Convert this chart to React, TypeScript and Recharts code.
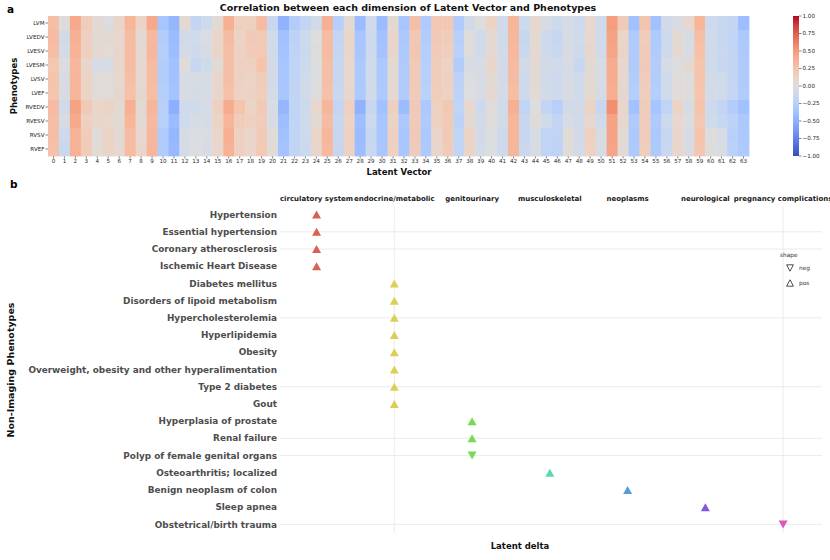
import React from "react"
import { Bar, BarChart, ReferenceLine, Scatter, ScatterChart, XAxis, YAxis } from "recharts"

// ---- panel a: correlation heatmap ----
const PHENOTYPES = ["LVM", "LVEDV", "LVESV", "LVESM", "LVSV", "LVEF", "RVEDV", "RVESV", "RVSV", "RVEF"]
const LATENT_DIMS = Array.from({ length: 64 }, (_, i) => i)

const LVM = [0.28, 0.02, 0.42, 0.18, 0.05, -0.02, 0.1, 0.35, 0.12, 0.42, -0.35, -0.45, 0.05, -0.18, -0.12, 0.05, 0.38, 0.15, 0.15, 0.3, -0.15, -0.48, -0.28, -0.18, -0.08, 0.38, -0.25, 0.05, -0.42, -0.1, -0.42, 0.05, -0.35, 0.28, -0.3, 0.22, 0.22, -0.3, -0.08, 0, 0.12, -0.1, 0.35, -0.12, 0.08, -0.05, -0.12, -0.05, -0.12, 0.08, -0.1, 0.48, 0.2, -0.38, 0.25, -0.38, -0.08, -0.05, 0.08, 0.35, -0.12, -0.15, -0.18, -0.4]
const LVEDV = [0.3, -0.08, 0.38, 0.15, 0.05, 0.05, 0.08, 0.3, 0.05, 0.32, -0.28, -0.42, -0.08, -0.1, -0.03, 0.1, 0.3, 0.12, 0.2, 0.2, -0.1, -0.38, -0.22, -0.12, 0, 0.3, -0.18, 0.1, -0.35, -0.12, -0.38, 0.1, -0.32, 0.22, -0.28, 0.2, 0.18, -0.25, 0.02, -0.1, 0.05, -0.1, 0.33, -0.15, 0.05, -0.12, -0.15, -0.05, -0.1, 0.08, -0.1, 0.45, 0.1, -0.3, 0.18, -0.3, -0.12, 0.05, -0.05, 0.28, -0.1, -0.15, -0.2, -0.32]
const LVESV = [0.29, -0.07, 0.36, 0.15, 0.06, 0.04, 0.09, 0.31, 0.06, 0.33, -0.27, -0.41, -0.07, -0.11, -0.04, 0.11, 0.29, 0.13, 0.19, 0.21, -0.09, -0.37, -0.21, -0.13, 0.01, 0.31, -0.17, 0.09, -0.34, -0.11, -0.37, 0.09, -0.31, 0.23, -0.27, 0.19, 0.17, -0.24, 0.01, -0.09, 0.06, -0.09, 0.32, -0.14, 0.06, -0.11, -0.14, -0.04, -0.11, 0.07, -0.09, 0.44, 0.11, -0.29, 0.19, -0.29, -0.11, 0.06, -0.04, 0.27, -0.09, -0.14, -0.19, -0.31]
const LVESM = [0.22, -0.02, 0.33, 0.1, -0.05, -0.05, 0.1, 0.3, 0.08, 0.3, -0.28, -0.38, 0.02, -0.15, -0.1, 0.05, 0.28, 0.15, 0.15, 0.25, -0.08, -0.35, -0.2, -0.12, 0, 0.28, -0.15, 0.08, -0.32, -0.1, -0.32, 0.05, -0.3, 0.2, -0.25, 0.18, 0.12, -0.28, -0.05, -0.05, 0.1, -0.08, 0.3, -0.08, 0.05, -0.08, -0.1, -0.05, -0.15, 0.05, -0.05, 0.4, 0.08, -0.3, 0.2, -0.28, -0.05, -0.02, 0.05, 0.25, -0.1, -0.15, -0.18, -0.3]
const LVSV = [0.25, -0.05, 0.35, 0.12, 0.02, 0.03, 0.08, 0.28, 0.08, 0.3, -0.28, -0.38, -0.05, -0.05, -0.05, 0.1, 0.28, 0.15, 0.12, 0.18, -0.08, -0.35, -0.2, -0.1, 0, 0.28, -0.15, 0.08, -0.32, -0.1, -0.32, 0.05, -0.3, 0.2, -0.25, 0.18, 0.15, -0.22, -0.02, -0.05, 0.05, -0.08, 0.3, -0.12, 0.05, -0.1, -0.12, -0.05, -0.1, 0.05, -0.05, 0.4, 0.08, -0.28, 0.18, -0.28, -0.1, 0.02, 0, 0.25, -0.08, -0.1, -0.18, -0.3]
const LVEF = [0.24, -0.04, 0.34, 0.12, 0.03, 0.02, 0.07, 0.27, 0.07, 0.29, -0.27, -0.37, -0.04, -0.06, -0.04, 0.09, 0.27, 0.14, 0.13, 0.17, -0.07, -0.34, -0.19, -0.09, 0.01, 0.27, -0.14, 0.07, -0.31, -0.09, -0.31, 0.06, -0.29, 0.19, -0.24, 0.17, 0.14, -0.21, -0.01, -0.04, 0.06, -0.07, 0.29, -0.11, 0.04, -0.09, -0.11, -0.04, -0.09, 0.06, -0.06, 0.39, 0.07, -0.27, 0.17, -0.27, -0.09, 0.03, 0.01, 0.24, -0.07, -0.09, -0.17, -0.29]
const RVEDV = [0.3, -0.1, 0.45, 0.2, 0.1, 0.12, 0.05, 0.38, 0.05, 0.35, -0.25, -0.5, -0.1, -0.1, -0.05, 0.15, 0.4, 0.25, 0.12, 0.2, -0.05, -0.45, -0.2, -0.12, 0.08, 0.35, -0.18, 0.15, -0.48, -0.15, -0.38, 0.15, -0.42, 0.2, -0.32, 0.15, 0.22, -0.2, 0.08, -0.12, 0.02, -0.1, 0.38, -0.2, 0, -0.18, -0.25, -0.08, -0.08, 0.12, -0.15, 0.55, 0.1, -0.38, 0.18, -0.35, -0.2, 0.12, -0.05, 0.25, -0.12, -0.18, -0.28, -0.38]
const RVESV = [0.28, -0.05, 0.42, 0.15, 0.1, 0.08, 0.05, 0.35, 0.05, 0.32, -0.25, -0.42, -0.1, -0.05, -0.05, 0.12, 0.35, 0.18, 0.15, 0.18, -0.05, -0.4, -0.2, -0.1, 0.05, 0.3, -0.15, 0.12, -0.4, -0.12, -0.35, 0.12, -0.32, 0.2, -0.3, 0.15, 0.2, -0.22, 0.05, -0.08, 0.02, -0.08, 0.35, -0.15, 0.02, -0.1, -0.18, -0.05, -0.08, 0.08, -0.1, 0.45, 0.08, -0.3, 0.18, -0.3, -0.12, 0.08, -0.02, 0.22, -0.1, -0.15, -0.22, -0.32]
const RVSV = [0.28, -0.12, 0.36, 0.18, 0.02, 0.12, 0.05, 0.3, 0.08, 0.33, -0.3, -0.45, -0.05, -0.03, -0.03, 0.1, 0.38, 0.15, 0.1, 0.2, 0.02, -0.38, -0.2, -0.12, 0.1, 0.33, -0.15, 0.15, -0.42, -0.15, -0.35, 0.15, -0.35, 0.2, -0.32, 0.1, 0.2, -0.2, 0.12, -0.08, 0, -0.12, 0.35, -0.15, -0.05, -0.2, -0.2, 0.03, -0.08, 0.15, -0.05, 0.45, 0.05, -0.32, 0.18, -0.32, -0.15, 0.1, -0.05, 0.25, 0, -0.05, -0.25, -0.32]
const RVEF = [0.27, -0.14, 0.37, 0.19, 0.04, 0.11, 0.06, 0.31, 0.1, 0.34, -0.29, -0.44, -0.06, -0.02, -0.04, 0.09, 0.37, 0.16, 0.09, 0.21, 0.03, -0.37, -0.19, -0.13, 0.09, 0.32, -0.16, 0.14, -0.41, -0.14, -0.34, 0.14, -0.34, 0.19, -0.31, 0.09, 0.19, -0.19, 0.11, -0.07, -0.01, -0.11, 0.34, -0.14, -0.04, -0.19, -0.21, 0.02, -0.07, 0.14, -0.04, 0.44, 0.04, -0.31, 0.17, -0.31, -0.14, 0.09, -0.04, 0.24, 0.01, -0.04, -0.24, -0.31]
const CORR = [LVM, LVEDV, LVESV, LVESM, LVSV, LVEF, RVEDV, RVESV, RVSV, RVEF]

const CB_TICKS = [1, 0.75, 0.5, 0.25, 0, -0.25, -0.5, -0.75, -1]

// ---- panel b: non-imaging phenotypes ----
const CATEGORIES = ["circulatory system", "endocrine/metabolic", "genitourinary", "musculoskeletal", "neoplasms", "neurological", "pregnancy complications"]
const DISEASES = [
  "Hypertension", "Essential hypertension", "Coronary atherosclerosis", "Ischemic Heart Disease",
  "Diabetes mellitus", "Disorders of lipoid metabolism", "Hypercholesterolemia", "Hyperlipidemia", "Obesity",
  "Overweight, obesity and other hyperalimentation", "Type 2 diabetes", "Gout",
  "Hyperplasia of prostate", "Renal failure", "Polyp of female genital organs",
  "Osteoarthritis; localized", "Benign neoplasm of colon", "Sleep apnea", "Obstetrical/birth trauma",
]
const DISEASE_CATEGORY = [0, 0, 0, 0, 1, 1, 1, 1, 1, 1, 1, 1, 2, 2, 2, 3, 4, 5, 6]
const DISEASE_SIGN = ["pos", "pos", "pos", "pos", "pos", "pos", "pos", "pos", "pos", "pos", "pos", "pos", "pos", "pos", "neg", "pos", "pos", "pos", "neg"]

const PALETTE = ["#db5f57", "#dbd057", "#75db57", "#57dbaa", "#579bdb", "#8557db", "#db57c0"]
const FONT = "'DejaVu Sans', sans-serif"

// coolwarm colormap samples, -1 .. 1 in steps of 0.125
const COOLWARM = [
  [58, 76, 192], [77, 104, 215], [98, 130, 234], [119, 154, 247], [141, 176, 254],
  [163, 194, 255], [184, 208, 249], [204, 217, 238], [221, 221, 221], [236, 211, 197],
  [245, 196, 173], [247, 177, 148], [244, 154, 123], [236, 127, 99], [222, 96, 77],
  [203, 62, 56], [180, 4, 38],
]
function coolwarm(v: number) {
  const t = Math.max(0, Math.min(1, (v + 1) / 2)) * (COOLWARM.length - 1)
  const i = Math.min(COOLWARM.length - 2, Math.floor(t))
  const f = t - i
  const c = COOLWARM[i].map((a, k) => Math.round(a + (COOLWARM[i + 1][k] - a) * f))
  return `rgb(${c[0]},${c[1]},${c[2]})`
}

const HM_LEFT = 48
const HM_RIGHT = 749
const HM_TOP = 16
const HM_BOTTOM = 156
const CELL_W = (HM_RIGHT - HM_LEFT) / LATENT_DIMS.length
const CELL_H = (HM_BOTTOM - HM_TOP) / PHENOTYPES.length

const cells = CORR.flatMap((row, r) => row.map((v, c) => ({ x: c, y: r, v })))
const points = DISEASES.map((name, i) => ({ x: DISEASE_CATEGORY[i], y: i, name, sign: DISEASE_SIGN[i] }))
const GRID_ROWS = [1, 2, 6, 10, 13, 14, 18]
const GRID_COLS = [1, 6]

const fmtCb = (v: number) => (v < 0 ? "\u2212" + Math.abs(v).toFixed(2) : v.toFixed(2))

const HeatCell = (p: any) => (
  <rect x={p.cx - CELL_W / 2} y={p.cy - CELL_H / 2} width={CELL_W + 0.4} height={CELL_H + 0.4} fill={coolwarm(p.payload.v)} />
)

const Triangle = (p: any) => {
  const { cx, cy } = p
  const w = 4.5
  const h = 4
  const pts = p.payload.sign === "pos"
    ? `${cx - w},${cy + h} ${cx + w},${cy + h} ${cx},${cy - h}`
    : `${cx - w},${cy - h} ${cx + w},${cy - h} ${cx},${cy + h}`
  return <polygon points={pts} fill={PALETTE[p.payload.x]} />
}

// plain text ticks so long labels are not wrapped
const DiseaseTick = (p: any) => (
  <text x={p.x} y={p.y} dy="0.35em" textAnchor="end" fontSize={8.9} fontWeight="bold" fill="#4d4d4d">
    {DISEASES[p.payload.value]}
  </text>
)
const CategoryTick = (p: any) => (
  <text x={p.x} y={p.y} dy={-5} textAnchor="middle" fontSize={7} fontWeight="bold" fill="#1a1a1a">
    {CATEGORIES[p.payload.value]}
  </text>
)

const txt = (style: React.CSSProperties): React.CSSProperties => ({
  position: "absolute", whiteSpace: "nowrap", lineHeight: 1, fontFamily: FONT, ...style,
})

export default function App() {
  const tickA = { fontSize: 5.6, fill: "#262626" }
  return (
    <div style={{ position: "absolute", left: 0, top: 0, width: 830, height: 560, background: "#fff", fontFamily: FONT }}>
      {/* panel a heatmap */}
      <div style={{ position: "absolute", left: 0, top: 0 }}>
        <ScatterChart width={830} height={180} margin={{ top: HM_TOP, right: 830 - HM_RIGHT, bottom: 180 - HM_BOTTOM - 10, left: 18 }} style={{ fontFamily: FONT }}>
          <XAxis type="number" dataKey="x" domain={[-0.5, 63.5]} ticks={LATENT_DIMS} interval={0} height={10}
            axisLine={false} tickSize={2.5} tickMargin={0.5} tickLine={{ stroke: "#333", strokeWidth: 0.6 }} tick={tickA} />
          <YAxis type="number" dataKey="y" domain={[-0.5, 9.5]} reversed ticks={PHENOTYPES.map((_, i) => i)} interval={0} width={30}
            tickFormatter={(i: number) => PHENOTYPES[i]} axisLine={false} tickSize={2.5} tickMargin={1}
            tickLine={{ stroke: "#333", strokeWidth: 0.6 }} tick={tickA} />
          <Scatter data={cells} shape={HeatCell} isAnimationActive={false} />
        </ScatterChart>
      </div>

      {/* colorbar */}
      <div style={{ position: "absolute", left: 0, top: 0 }}>
        <BarChart width={830} height={180} data={[{ k: "cb", r: [-1, 1] }]} barCategoryGap={0}
          margin={{ top: HM_TOP, right: 6, bottom: 180 - HM_BOTTOM, left: 793 }} style={{ fontFamily: FONT }}>
          <defs>
            <linearGradient id="cwGrad" x1="0" y1="0" x2="0" y2="1">
              {COOLWARM.map((c, i) => (
                <stop key={i} offset={`${(i / (COOLWARM.length - 1)) * 100}%`} stopColor={`rgb(${COOLWARM[COOLWARM.length - 1 - i].join(",")})`} />
              ))}
            </linearGradient>
          </defs>
          <XAxis dataKey="k" hide />
          <YAxis orientation="right" type="number" domain={[-1, 1]} ticks={CB_TICKS} interval={0} width={25}
            tickFormatter={fmtCb} axisLine={false} tickSize={2.5} tickMargin={1}
            tickLine={{ stroke: "#333", strokeWidth: 0.6 }} tick={{ ...tickA, textAnchor: "start" }} />
          <Bar dataKey="r" fill="url(#cwGrad)" isAnimationActive={false} />
        </BarChart>
      </div>

      <div style={txt({ left: 7, top: 4, fontSize: 10.5, fontWeight: "bold" })}>a</div>
      <div style={txt({ left: 408, top: 8, transform: "translate(-50%,-50%)", fontSize: 9.5, fontWeight: "bold", color: "#111" })}>
        Correlation between each dimension of Latent Vector and Phenotypes
      </div>
      <div style={txt({ left: 399, top: 172, transform: "translate(-50%,-50%)", fontSize: 8.5, fontWeight: "bold", color: "#111" })}>Latent Vector</div>
      <div style={txt({ left: 14, top: 86, transform: "translate(-50%,-50%) rotate(-90deg)", fontSize: 8.5, fontWeight: "bold", color: "#111" })}>Phenotypes</div>

      {/* panel b */}
      <div style={{ position: "absolute", left: 0, top: 180 }}>
        <ScatterChart width={830} height={380} margin={{ top: 6, right: 8, bottom: 27, left: 0 }} style={{ fontFamily: FONT }}>
          <XAxis type="number" dataKey="x" orientation="top" domain={[-0.47, 6.5]} ticks={CATEGORIES.map((_, i) => i)} interval={0} height={20}
            axisLine={false} tickLine={false} tickSize={0} tickMargin={0} tick={<CategoryTick />} />
          <YAxis type="number" dataKey="y" domain={[-0.5, 18.5]} reversed ticks={DISEASES.map((_, i) => i)} interval={0} width={280}
            axisLine={false} tickLine={false} tickSize={0} tickMargin={3} tick={<DiseaseTick />} />
          {GRID_COLS.map((c) => <ReferenceLine key={"c" + c} x={c} stroke="#e6e6e6" strokeWidth={0.8} />)}
          {GRID_ROWS.map((r) => <ReferenceLine key={"r" + r} y={r} stroke="#e6e6e6" strokeWidth={0.8} />)}
          <Scatter data={points} shape={Triangle} isAnimationActive={false} />
        </ScatterChart>
      </div>

      <div style={txt({ left: 10, top: 179, fontSize: 10.5, fontWeight: "bold" })}>b</div>
      <div style={txt({ left: 520, top: 546, transform: "translate(-50%,-50%)", fontSize: 8.5, fontWeight: "bold", color: "#111" })}>Latent delta</div>
      <div style={txt({ left: 11, top: 370, transform: "translate(-50%,-50%) rotate(-90deg)", fontSize: 9.5, fontWeight: "bold", color: "#111" })}>Non-Imaging Phenotypes</div>

      {/* shape legend */}
      <div style={{ position: "absolute", left: 780, top: 253, fontFamily: FONT, fontSize: 5.8, color: "#333" }}>
        <div style={{ lineHeight: 1 }}>shape</div>
        <div style={{ display: "flex", alignItems: "center", marginTop: 5, marginLeft: 6 }}>
          <svg width={8} height={8}><polygon points="0.6,0.8 7.4,0.8 4,7.2" fill="none" stroke="#222" strokeWidth={0.8} /></svg>
          <span style={{ marginLeft: 5 }}>neg</span>
        </div>
        <div style={{ display: "flex", alignItems: "center", marginTop: 7, marginLeft: 6 }}>
          <svg width={8} height={8}><polygon points="0.6,7.2 7.4,7.2 4,0.8" fill="none" stroke="#222" strokeWidth={0.8} /></svg>
          <span style={{ marginLeft: 5 }}>pos</span>
        </div>
      </div>
    </div>
  )
}
